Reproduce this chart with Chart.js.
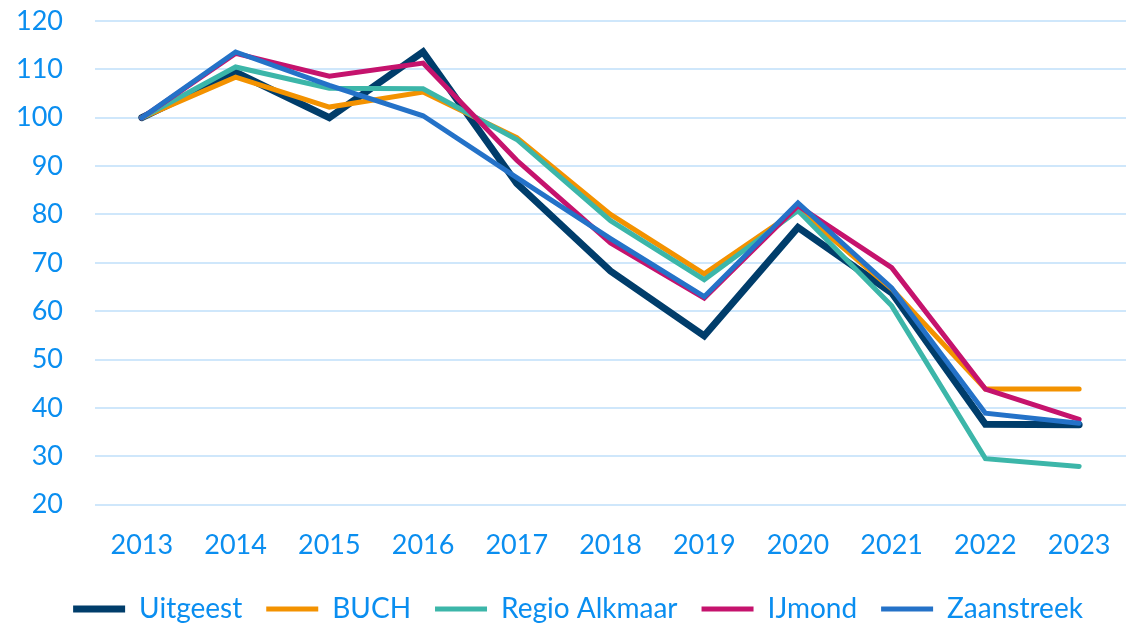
<!DOCTYPE html>
<html>
<head>
<meta charset="utf-8">
<script src="https://cdn.jsdelivr.net/npm/chart.js@4/dist/chart.umd.min.js"></script>
<style>
  html, body { margin: 0; padding: 0; background: #fff; }
  #wrap { width: 1138px; height: 623px; }
</style>
</head>
<body>
<div id="wrap"><canvas id="lineChart" width="1138" height="623"></canvas></div>
<script>
// ==========================
// DATA
// ==========================
const years = ["2013", "2014", "2015", "2016", "2017", "2018", "2019", "2020", "2021", "2022", "2023"];

const uitgeest     = [100, 109.4, 100.0, 113.6, 86.4, 68.3, 54.9, 77.3, 63.8, 36.6, 36.5];
const buch         = [100, 108.4, 102.2, 105.3, 95.9, 80.0, 67.7, 81.0, 64.6, 43.9, 43.9];
const regioAlkmaar = [100, 110.5, 106.1, 106.0, 95.5, 78.7, 66.5, 80.8, 61.1, 29.5, 27.9];
const ijmond       = [100, 113.3, 108.6, 111.3, 91.2, 74.1, 62.7, 81.8, 69.0, 43.9, 37.6];
const zaanstreek   = [100, 113.6, 106.7, 100.4, 87.6, 75.0, 63.0, 82.4, 64.8, 38.9, 36.8];

const tickColor = "#0a8ef0";
const gridColor = "#cfe7fb";

// ==========================
// CHART
// ==========================
const ctx = document.getElementById("lineChart").getContext("2d");

function serie(label, data, color, width, order) {
  return {
    label: label,
    data: data,
    borderColor: color,
    backgroundColor: color,
    borderWidth: width,
    borderCapStyle: "round",
    borderJoinStyle: "miter",
    pointRadius: 0,
    pointHoverRadius: 0,
    tension: 0,
    order: order
  };
}

// legenda iets naar rechts schuiven (zoals in het origineel)
const legendShift = {
  id: "legendShift",
  afterUpdate(chart) {
    if (chart.legend) {
      chart.legend.left += 15;
      chart.legend.right += 15;
    }
  }
};

new Chart(ctx, {
  type: "line",
  data: {
    labels: years,
    datasets: [
      serie("Uitgeest", uitgeest, "#003d6b", 7, 5),
      serie("BUCH", buch, "#f39200", 5, 4),
      serie("Regio Alkmaar", regioAlkmaar, "#3cb6a9", 5, 3),
      serie("IJmond", ijmond, "#c5136d", 5, 2),
      serie("Zaanstreek", zaanstreek, "#2472c8", 5, 1)
    ]
  },
  plugins: [legendShift],
  options: {
    responsive: false,
    animation: false,
    devicePixelRatio: 1,
    layout: { padding: { top: 21, right: 12, left: 0, bottom: -10 } },
    plugins: {
      tooltip: { enabled: false },
      legend: {
        position: "bottom",
        labels: {
          color: tickColor,
          font: { family: "Lato", size: 28 },
          usePointStyle: true,
          pointStyle: "line",
          pointStyleWidth: 52,
          boxHeight: 10,
          padding: 24,
          sort: (a, b) => a.datasetIndex - b.datasetIndex
        }
      }
    },
    scales: {
      x: {
        offset: true,
        grid: { display: false, drawTicks: false },
        border: { display: false },
        ticks: {
          color: tickColor,
          font: { family: "Lato", size: 27 },
          padding: 24,
          maxRotation: 0
        },
        afterFit: (scale) => {
          // geen extra ruimte links/rechts
          scale.paddingLeft = 0;
          scale.paddingRight = 0;
          scale.height -= 14;
        }
      },
      y: {
        min: 20,
        max: 120,
        grid: { color: gridColor, lineWidth: 2, drawTicks: false },
        border: { display: false },
        ticks: {
          stepSize: 10,
          color: tickColor,
          font: { family: "Lato", size: 27 },
          padding: 32
        },
        afterFit: (scale) => {
          scale.width = 95;
          scale.paddingTop = 0;
          scale.paddingBottom = 0;
        }
      }
    }
  }
});
</script>
</body>
</html>
